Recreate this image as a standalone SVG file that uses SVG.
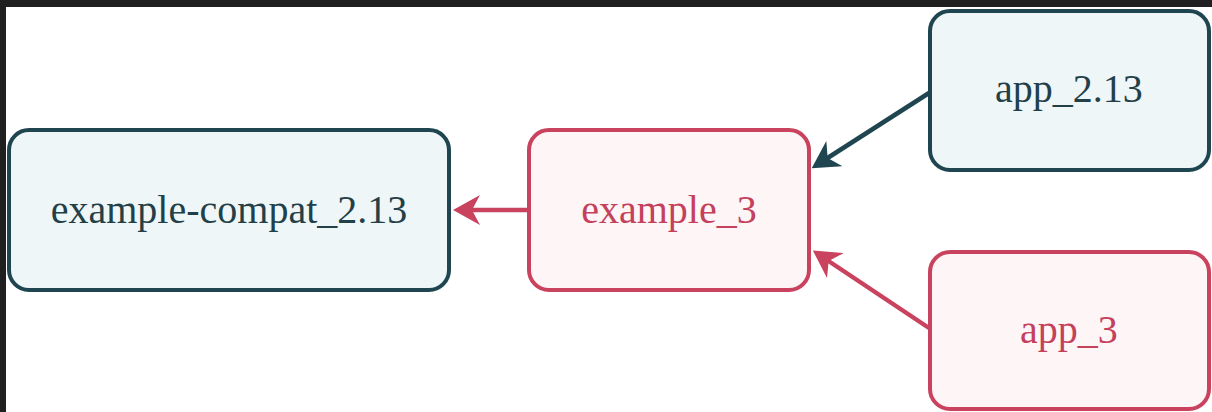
<svg xmlns="http://www.w3.org/2000/svg" width="1212" height="412" viewBox="0 0 1212 412">
  <style>
    .box { stroke-width: 4; }
    .dark { fill: #eff6f8; stroke: #1f4650; }
    .red { fill: #fdf5f6; stroke: #c9435f; }
    .label { font-family: "Liberation Serif", "Times New Roman", serif; font-size: 40px; text-anchor: middle; }
    .tdark { fill: #233f47; }
    .tred { fill: #c4405b; }
    .edge { fill: none; stroke-width: 4.5; }
  </style>
  <defs>
    <marker id="ahDark" viewBox="0 0 27 30" markerWidth="27" markerHeight="30" markerUnits="userSpaceOnUse" refX="10" refY="15" orient="auto">
      <path d="M27,15 L0,0 L8,15 L0,30 Z" fill="#1f4650"/>
    </marker>
    <marker id="ahRed" viewBox="0 0 27 30" markerWidth="27" markerHeight="30" markerUnits="userSpaceOnUse" refX="10" refY="15" orient="auto">
      <path d="M27,15 L0,0 L8,15 L0,30 Z" fill="#c9435f"/>
    </marker>
  </defs>
  <rect x="0" y="0" width="1212" height="412" fill="#202020"/>
  <rect x="6" y="7" width="1206" height="405" fill="#ffffff"/>

  <g id="connectors">
    <line class="edge" x1="527" y1="210" x2="470" y2="210" stroke="#c9435f" marker-end="url(#ahRed)"/>
    <line class="edge" x1="929" y1="93" x2="826" y2="159" stroke="#1f4650" marker-end="url(#ahDark)"/>
    <line class="edge" x1="929" y1="328" x2="827" y2="260" stroke="#c9435f" marker-end="url(#ahRed)"/>
  </g>

  <g id="node-example-compat">
    <rect class="box dark" x="9" y="130" width="440" height="160" rx="20" ry="20"/>
    <text class="label tdark" x="229" y="223">example-compat_2.13</text>
  </g>
  <g id="node-example3">
    <rect class="box red" x="529" y="130" width="280" height="160" rx="20" ry="20"/>
    <text class="label tred" x="669" y="223">example_3</text>
  </g>
  <g id="node-app213">
    <rect class="box dark" x="930" y="11" width="279" height="159" rx="20" ry="20"/>
    <text class="label tdark" x="1069" y="102">app_2.13</text>
  </g>
  <g id="node-app3">
    <rect class="box red" x="930" y="252" width="279" height="157" rx="20" ry="20"/>
    <text class="label tred" x="1069" y="343">app_3</text>
  </g>
</svg>
